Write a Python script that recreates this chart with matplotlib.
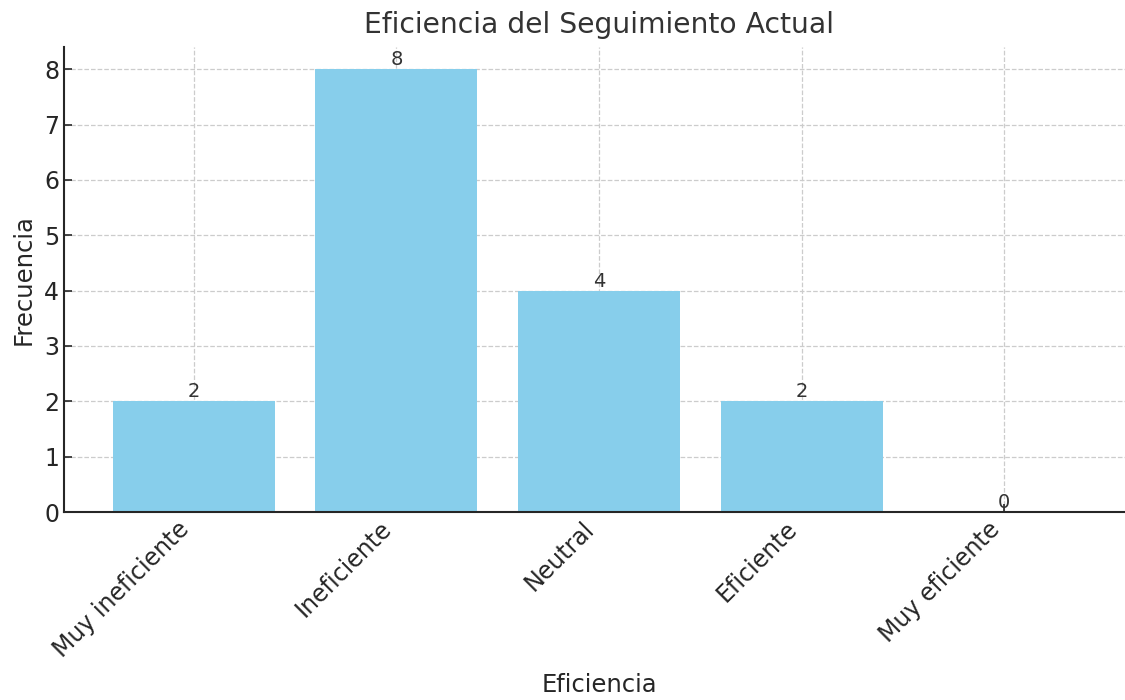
import matplotlib
matplotlib.use("Agg")
import numpy as np
import matplotlib.pyplot as plt

categorias = ["Muy ineficiente", "Ineficiente", "Neutral", "Eficiente", "Muy eficiente"]
frecuencias = [2, 8, 4, 2, 0]

fig = plt.figure(figsize=(11.25, 7), dpi=100)
ax = fig.add_axes([64 / 1125, 1 - 512 / 700, 1070 / 1125, 465 / 700])

xpos = np.arange(len(categorias))
bars = ax.bar(xpos, frecuencias, width=0.8, color="skyblue", zorder=2)

for b, v in zip(bars, frecuencias):
    ax.text(b.get_x() + b.get_width() / 2, v, str(v), ha="center", va="bottom",
            fontsize=14, color="#333333", zorder=3)

ax.set_xticks(xpos)
ax.set_xticklabels(categorias, rotation=45, ha="right")
ax.set_ylim(0, 8.4)
ax.set_xlim(-0.64, 4.64)

ax.grid(True, linestyle="--", color="#cccccc", linewidth=0.9, zorder=0)
ax.set_axisbelow(True)
for s in ["top", "right"]:
    ax.spines[s].set_visible(False)
for s in ["left", "bottom"]:
    ax.spines[s].set_linewidth(1.5)
    ax.spines[s].set_color("#262626")
ax.tick_params(direction="in", length=6, width=1.2, labelsize=17,
               labelcolor="#262626", color="#262626")

ax.set_title("Eficiencia del Seguimiento Actual", fontsize=20.3, color="#333333", pad=10)
ax.set_xlabel("Eficiencia", fontsize=17.5, color="#262626", labelpad=8)
ax.set_ylabel("Frecuencia", fontsize=17.5, color="#262626", labelpad=6)

fig.savefig("out.png", dpi=100)
